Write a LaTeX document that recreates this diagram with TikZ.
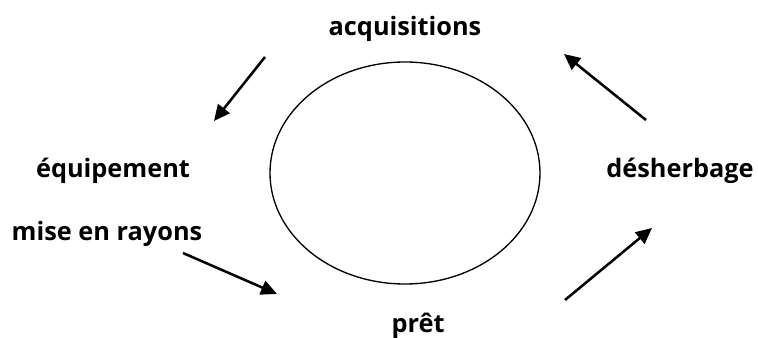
\documentclass[tikz,border=0pt]{standalone}
\usepackage{fontspec}
\setmainfont{Open Sans}
\usetikzlibrary{arrows.meta}

\tikzset{
  lbl/.style={font=\fontsize{19}{22}\selectfont\bfseries, inner sep=0pt},
  flow/.style={line width=1.9pt, -{Triangle[length=12pt,width=11pt]}}
}

\begin{document}
\begin{tikzpicture}[x=0.75pt,y=-0.75pt]

\useasboundingbox (0,0) rectangle (758,338);

% Cycle
\draw[line width=1pt] (405,173) ellipse (135 and 111);

% Stages
\node[lbl] (acq) at (405,29) {acquisitions};
\node[lbl] (equip) at (113,171) {équipement};
\node[lbl] (mise) at (107,234) {mise en rayons};
\node[lbl] (pret) at (418,326) {prêt};
\node[lbl] (desh) at (680,171) {désherbage};

% Arrow ends
\coordinate (a1) at (265,57);
\coordinate (b1) at (214,121);
\coordinate (a2) at (183,253);
\coordinate (b2) at (277,294);
\coordinate (a3) at (565,300);
\coordinate (b3) at (652,228);
\coordinate (a4) at (646,120);
\coordinate (b4) at (564,54);

% Arrows
\draw[flow] (a1) -- (b1);
\draw[flow] (a2) -- (b2);
\draw[flow] (a3) -- (b3);
\draw[flow] (a4) -- (b4);

\end{tikzpicture}
\end{document}
